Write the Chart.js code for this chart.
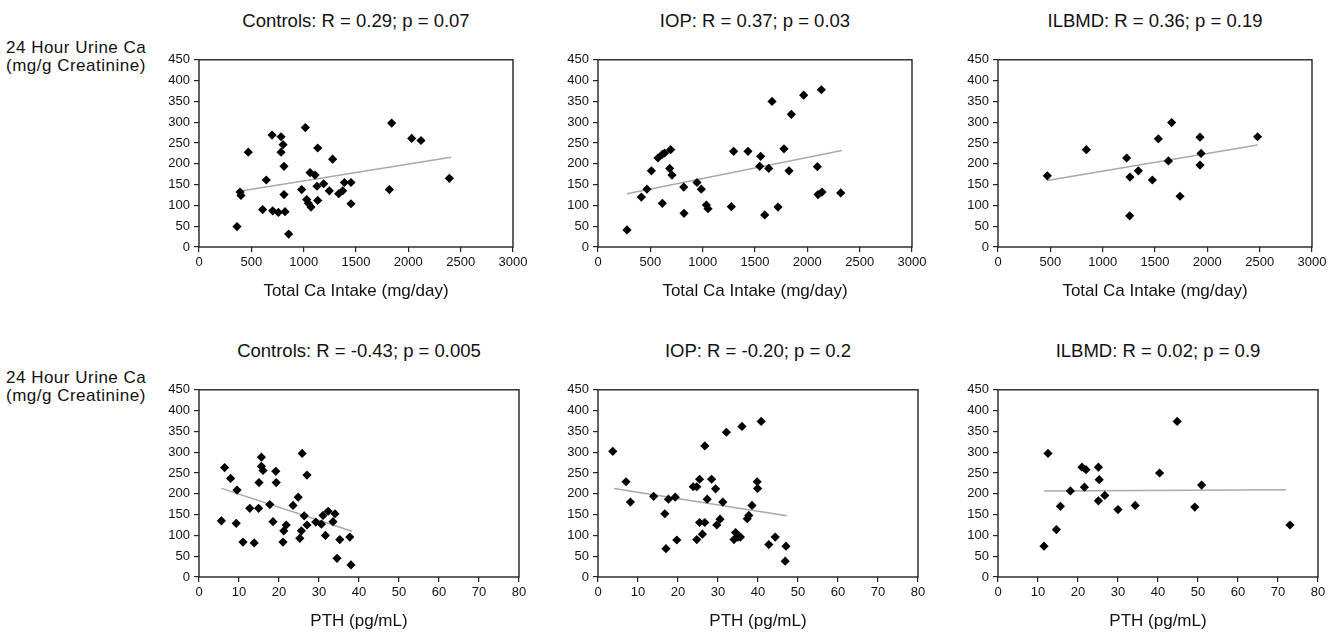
<!DOCTYPE html>
<html lang="en">
<head>
<meta charset="UTF-8">
<title>24 Hour Urine Ca correlations</title>
<script src="https://cdn.jsdelivr.net/npm/chart.js"></script>
<style>
  body {
    margin: 0;
    width: 1338px;
    height: 638px;
    position: relative;
    overflow: hidden;
    background: #fff;
    font-family: 'Liberation Sans', Arial, sans-serif;
    color: #111;
  }
  canvas { position: absolute; }
  .title {
    position: absolute;
    text-align: center;
    font-size: 18.5px;
    line-height: 21px;
    white-space: nowrap;
  }
  .ylab {
    position: absolute;
    left: 6px;
    font-size: 17px;
    line-height: 18px;
    letter-spacing: 0.5px;
    white-space: nowrap;
  }
</style>
</head>
<body>
  <div class="ylab" style="top:39px">24 Hour Urine Ca<br>(mg/g Creatinine)</div>
  <div class="ylab" style="top:369px">24 Hour Urine Ca<br>(mg/g Creatinine)</div>

<script>
  // Total Ca intake (mg/day) vs urine Ca
  const controlsCaX = [363, 392, 401, 471, 643, 608, 698, 704, 758, 784, 803, 784, 812, 812, 822, 857, 1016, 981, 1029, 1045,
                       1070, 1061, 1108, 1134, 1127, 1134, 1191, 1245, 1277, 1335, 1373, 1389, 1452, 1452, 1819, 1841, 2032, 2121, 2392];
  const controlsCaY = [49, 132, 124, 228, 161, 90, 269, 87, 83, 265, 246, 228, 194, 126, 85, 31, 287, 138, 114, 105,
                       96, 179, 173, 238, 146, 112, 152, 135, 211, 128, 135, 155, 155, 104, 138, 298, 261, 256, 165];
  const iopCaX = [277, 414, 468, 510, 573, 615, 637, 694, 615, 685, 707, 819, 822, 946, 987, 1035, 1051, 1274, 1296, 1433,
                  1554, 1545, 1631, 1593, 1663, 1720, 1777, 1825, 1847, 1965, 2096, 2102, 2140, 2134, 2319];
  const iopCaY = [41, 120, 139, 183, 214, 223, 226, 234, 105, 189, 173, 144, 81, 155, 139, 101, 92, 97, 230, 230,
                  218, 194, 189, 77, 350, 96, 236, 183, 319, 365, 193, 126, 132, 378, 130];
  const ilbmdCaX = [471, 844, 1229, 1261, 1341, 1258, 1475, 1532, 1659, 1628, 1739, 1930, 1940, 1930, 2480];
  const ilbmdCaY = [171, 234, 214, 168, 183, 75, 161, 260, 299, 207, 122, 264, 225, 197, 265];

  // PTH (pg/mL) vs urine Ca
  const controlsPthX = [5.6, 6.4, 7.9, 9.5, 9.3, 11, 12.7, 13.8, 14.9, 15, 15.6, 15.6, 16, 17.7, 18.5, 19.2, 19.3, 21, 21.2, 21.8,
                        23.5, 24.8, 25.2, 25.6, 25.8, 26.3, 27, 27, 29.2, 30.6, 31, 31.6, 32.3, 33.5, 34, 34.5, 35.2, 37.7, 38];
  const controlsPthY = [135, 263, 237, 209, 129, 84, 165, 82, 165, 227, 288, 266, 256, 174, 133, 254, 227, 84, 111, 125,
                        172, 192, 93, 111, 297, 147, 245, 125, 132, 127, 148, 100, 158, 133, 152, 45, 90, 96, 29];
  const iopPthX = [3.7, 7.0, 8.1, 13.9, 16.7, 17, 17.6, 19.3, 19.7, 23.8, 24.7, 25.4, 24.7, 25.4, 26.1, 26.7, 26.7, 27.3, 28.4, 29.4,
                   29.7, 30.5, 31.2, 32.1, 34, 34.4, 35, 35.6, 36, 37.3, 37.7, 38.5, 39.8, 39.9, 40.8, 42.7, 44.3, 47, 46.8];
  const iopPthY = [302, 229, 180, 194, 152, 68, 187, 192, 89, 217, 217, 235, 90, 131, 103, 315, 131, 187, 235, 212,
                   125, 139, 180, 348, 90, 107, 96, 96, 362, 140, 148, 172, 229, 213, 374, 78, 96, 74, 38];
  const ilbmdPthX = [11.5, 12.5, 14.6, 15.6, 18.1, 21, 22, 21.6, 25.1, 25.3, 25.1, 26.7, 30, 34.3, 40.4, 44.8, 49.2, 50.9, 73];
  const ilbmdPthY = [74, 297, 114, 170, 207, 264, 258, 216, 264, 234, 183, 196, 162, 172, 250, 374, 168, 221, 125];

  // trend line end points
  const trendCaX = [[385, 2408], [277, 2330], [471, 2480]];
  const trendCaY = [[134, 216], [128, 232], [160, 245]];
  const trendPthX = [[5.6, 38.3], [4, 47.2], [11.5, 72]];
  const trendPthY = [[213, 110], [213, 147], [207, 210]];

  const titlesCa = ['Controls: R = 0.29; p = 0.07', 'IOP: R = 0.37; p = 0.03', 'ILBMD: R = 0.36; p = 0.19'];
  const titlesPth = ['Controls: R = -0.43; p = 0.005', 'IOP: R = -0.20; p = 0.2', 'ILBMD: R = 0.02; p = 0.9'];

  Chart.defaults.font.family = "'Liberation Sans', Arial, sans-serif";
  Chart.defaults.color = '#111';

  const boxPlugin = {
    id: 'box',
    beforeDatasetsDraw(chart) {
      const a = chart.chartArea, ctx = chart.ctx;
      ctx.save();
      ctx.strokeStyle = '#222';
      ctx.lineWidth = 1.4;
      ctx.strokeRect(a.left, a.top, a.right - a.left, a.bottom - a.top);
      ctx.restore();
    }
  };

  const plotLefts = [199, 598, 998];
  const plotH = 191;

  function makePanel(i, row, xs, ys, tx, ty) {
    const top = row === 0 ? 56 : 386;
    const plotW = row === 0 ? 314 : 320;
    const left = plotLefts[i];

    const t = document.createElement('div');
    t.className = 'title';
    t.style.left = left + 'px';
    t.style.width = plotW + 'px';
    t.style.top = (top - 46) + 'px';
    t.textContent = row === 0 ? titlesCa[i] : titlesPth[i];
    document.body.appendChild(t);

    const cv = document.createElement('canvas');
    cv.width = 48 + plotW + 22;
    cv.height = 8 + plotH + 56;
    cv.style.left = (left - 48) + 'px';
    cv.style.top = (top - 8) + 'px';
    document.body.appendChild(cv);

    const gridOpts = { drawOnChartArea: false, drawTicks: true, tickLength: 5, color: '#222', lineWidth: 1.2 };

    new Chart(cv.getContext('2d'), {
      type: 'scatter',
      data: {
        datasets: [
          {
            data: xs.map((x, k) => ({ x: x, y: ys[k] })),
            pointStyle: 'rectRot',
            pointRadius: 4.6,
            backgroundColor: '#000',
            borderColor: '#000',
            borderWidth: 0
          },
          {
            type: 'line',
            data: [{ x: tx[0], y: ty[0] }, { x: tx[1], y: ty[1] }],
            borderColor: '#a9a9a9',
            borderWidth: 1.5,
            pointRadius: 0
          }
        ]
      },
      options: {
        responsive: false,
        animation: false,
        layout: { padding: { top: 8, right: 22, left: 0, bottom: 0 } },
        plugins: { legend: { display: false }, tooltip: { enabled: false } },
        scales: {
          x: {
            type: 'linear',
            min: 0,
            max: row === 0 ? 3000 : 80,
            afterFit: s => { s.height = 56; },
            ticks: {
              stepSize: row === 0 ? 500 : 10, autoSkip: false, maxRotation: 0, padding: 3,
              font: { size: 13 }, callback: v => String(v)
            },
            grid: gridOpts,
            border: { display: false },
            title: {
              display: true,
              text: row === 0 ? 'Total Ca Intake (mg/day)' : 'PTH (pg/mL)',
              font: { size: 17 },
              padding: { top: 0, bottom: 1 }
            }
          },
          y: {
            min: 0,
            max: 450,
            afterFit: s => { s.width = 48; },
            ticks: { stepSize: 50, autoSkip: false, padding: 4, font: { size: 13 }, callback: v => String(v) },
            grid: gridOpts,
            border: { display: false }
          }
        }
      },
      plugins: [boxPlugin]
    });
  }

  makePanel(0, 0, controlsCaX, controlsCaY, trendCaX[0], trendCaY[0]);
  makePanel(1, 0, iopCaX, iopCaY, trendCaX[1], trendCaY[1]);
  makePanel(2, 0, ilbmdCaX, ilbmdCaY, trendCaX[2], trendCaY[2]);
  makePanel(0, 1, controlsPthX, controlsPthY, trendPthX[0], trendPthY[0]);
  makePanel(1, 1, iopPthX, iopPthY, trendPthX[1], trendPthY[1]);
  makePanel(2, 1, ilbmdPthX, ilbmdPthY, trendPthX[2], trendPthY[2]);
</script>
</body>
</html>
